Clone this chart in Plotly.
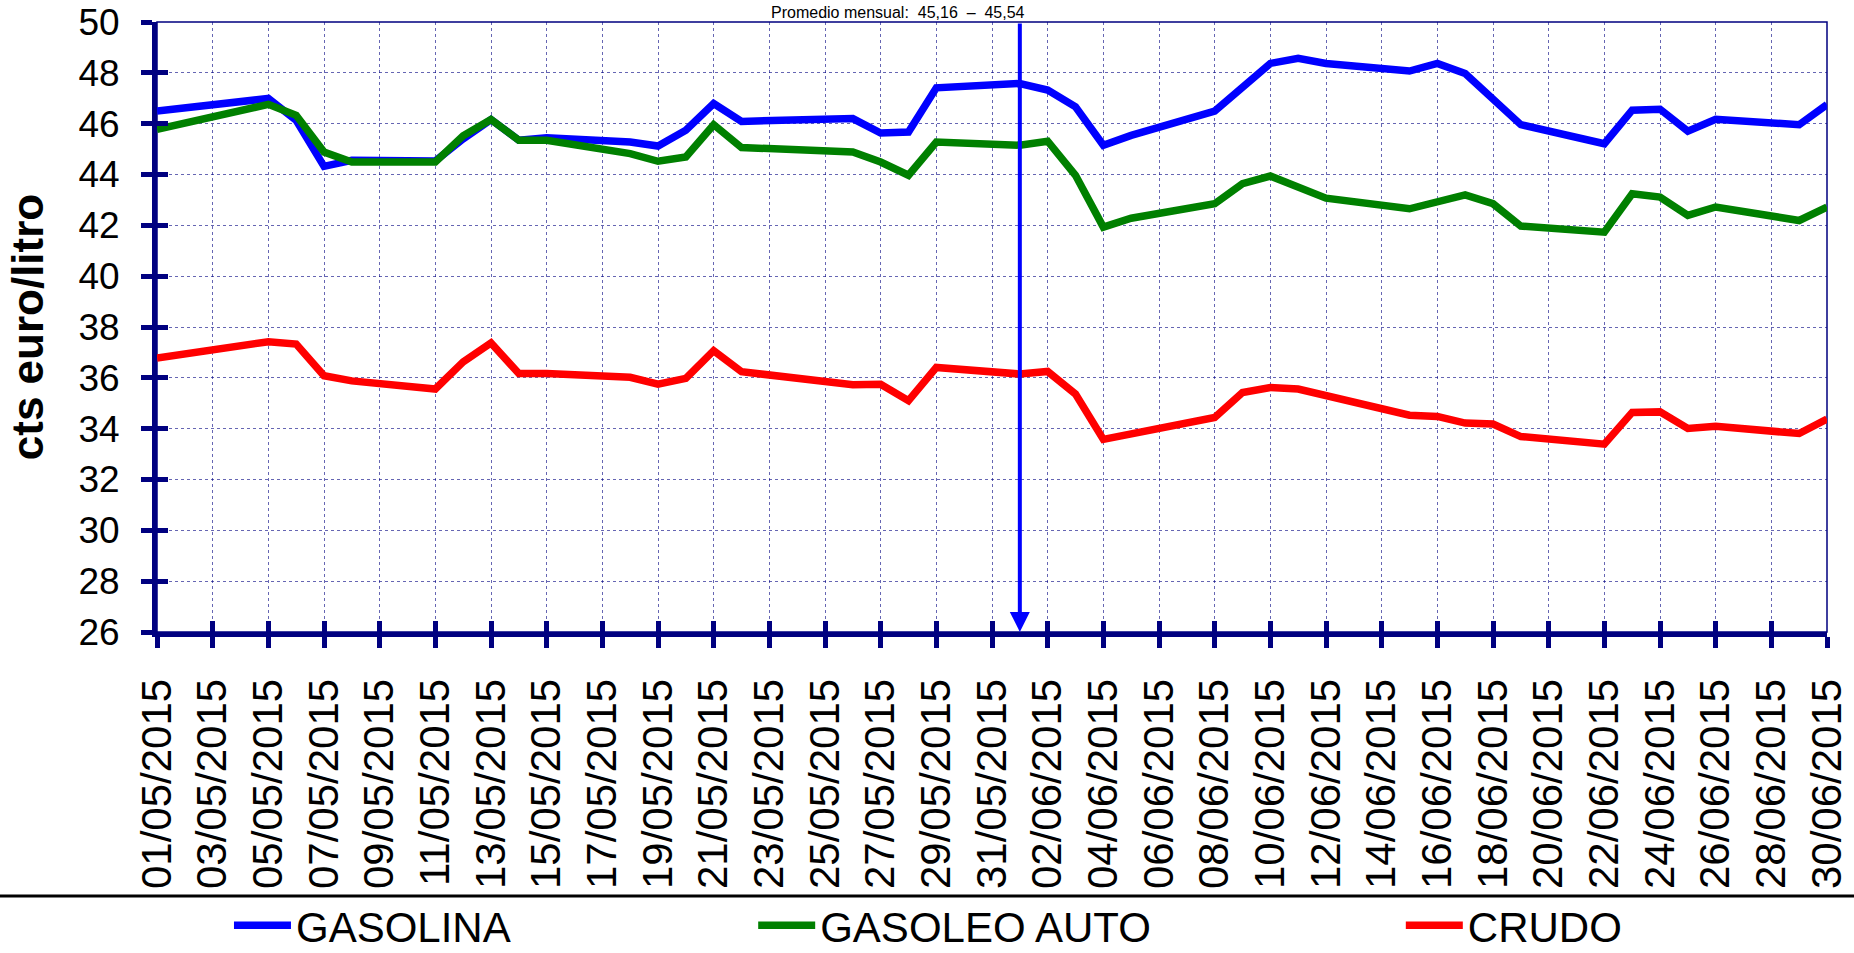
import plotly.graph_objects as go

# ---------------- data ----------------
dates = [
    "2015-05-01", "2015-05-05", "2015-05-06", "2015-05-07", "2015-05-08",
    "2015-05-11", "2015-05-12", "2015-05-13", "2015-05-14", "2015-05-15",
    "2015-05-18", "2015-05-19", "2015-05-20", "2015-05-21", "2015-05-22",
    "2015-05-26", "2015-05-27", "2015-05-28", "2015-05-29",
    "2015-06-01", "2015-06-02", "2015-06-03", "2015-06-04", "2015-06-05",
    "2015-06-08", "2015-06-09", "2015-06-10", "2015-06-11", "2015-06-12",
    "2015-06-15", "2015-06-16", "2015-06-17", "2015-06-18", "2015-06-19",
    "2015-06-22", "2015-06-23", "2015-06-24", "2015-06-25", "2015-06-26",
    "2015-06-29", "2015-06-30",
]
gasolina = [
    46.50, 46.99, 46.13, 44.32, 44.56,
    44.53, 45.40, 46.16, 45.35, 45.45,
    45.28, 45.12, 45.74, 46.79, 46.09,
    46.20, 45.63, 45.67, 47.41,
    47.58, 47.32, 46.66, 45.15, 45.54,
    46.49, 47.45, 48.37, 48.57, 48.37,
    48.07, 48.37, 47.97, 46.92, 45.96,
    45.21, 46.53, 46.57, 45.70, 46.17,
    45.96, 46.75,
]
gasoleo = [
    45.78, 46.76, 46.33, 44.88, 44.49,
    44.49, 45.52, 46.16, 45.35, 45.35,
    44.82, 44.52, 44.69, 45.96, 45.06,
    44.89, 44.49, 43.97, 45.28,
    45.15, 45.31, 43.97, 41.93, 42.28,
    42.85, 43.64, 43.94, 43.51, 43.07,
    42.65, 42.91, 43.20, 42.85, 41.97,
    41.73, 43.24, 43.11, 42.39, 42.72,
    42.19, 42.72,
]
crudo = [
    36.78, 37.42, 37.33, 36.08, 35.88,
    35.56, 36.63, 37.37, 36.17, 36.17,
    36.02, 35.75, 35.98, 37.07, 36.24,
    35.73, 35.75, 35.10, 36.41,
    36.15, 36.25, 35.36, 33.58, 33.78,
    34.44, 35.42, 35.62, 35.56, 35.32,
    34.53, 34.48, 34.22, 34.18, 33.69,
    33.39, 34.64, 34.66, 34.01, 34.09,
    33.81, 34.38,
]
series_names = ["GASOLINA", "GASOLEO AUTO", "CRUDO"]
series_colors = ["#0000FF", "#008000", "#FF0000"]
x_range = ["2015-05-01", "2015-06-30"]
y_range = [26, 50]
marker_date = "2015-06-01"
top_text = "Promedio mensual:  45,16  –  45,54"
y_title = "cts euro/litro"

FONT = "Arial, Liberation Sans, sans-serif"
NAVY = "#000080"
GRID = "rgba(0,0,128,0.6)"
DAY = 86400000

fig = go.Figure()
legends = ["legend", "legend2", "legend3"]
for name, vals, col, lg in zip(series_names, [gasolina, gasoleo, crudo], series_colors, legends):
    fig.add_trace(go.Scatter(
        x=dates, y=vals, name=name, mode="lines",
        line=dict(color=col, width=7.5), legend=lg,
    ))

# invisible trace carrying the overlay axes used for inner tick halves
fig.add_trace(go.Scatter(
    x=[dates[0]], y=[crudo[0]], xaxis="x2", yaxis="y2", mode="markers",
    marker=dict(opacity=0), showlegend=False, hoverinfo="skip",
))

# vertical arrow
fig.add_annotation(
    x=marker_date, y=y_range[0], xref="x", yref="y",
    ax=0, ay=y_range[1], axref="pixel", ayref="y",
    showarrow=True, arrowhead=2, arrowsize=1.0, arrowwidth=4,
    arrowcolor="#0000FF", standoff=0, text="",
)

# small text at top
fig.add_annotation(
    x=0.4437, y=1.0328, xref="paper", yref="paper",
    xanchor="center", yanchor="top", showarrow=False,
    text=top_text, font=dict(family=FONT, size=16, color="black"),
)

# plot frame (top/right thin lines)
fig.add_shape(type="rect", xref="paper", yref="paper", x0=0, y0=0, x1=1, y1=1,
              line=dict(color=NAVY, width=1.5), layer="below")
# separator line above legend
fig.add_shape(type="line", xref="paper", yref="paper", x0=-0.1, x1=1.1,
              y0=-0.4328, y1=-0.4328, line=dict(color="black", width=3))

xcommon = dict(type="date", range=x_range, tick0=x_range[0], dtick=2 * DAY, automargin=False)
ycommon = dict(range=y_range, tick0=26, dtick=2, automargin=False)

fig.update_layout(
    width=1854, height=953,
    margin=dict(l=157, r=27, t=22, b=321, autoexpand=False),
    paper_bgcolor="white", plot_bgcolor="white",
    font=dict(family=FONT, color="black"),
    xaxis=dict(
        **xcommon, tickformat="%d/%m/%Y", tickangle=-90,
        tickfont=dict(family=FONT, size=42, color="black"),
        showline=True, linecolor=NAVY, linewidth=5,
        ticks="outside", ticklen=11, tickwidth=5, tickcolor=NAVY,
        showgrid=True, gridcolor=GRID, gridwidth=1, griddash="dot",
        zeroline=False, ticklabelstandoff=14,
    ),
    yaxis=dict(
        **ycommon,
        tickfont=dict(family=FONT, size=37, color="black"),
        showline=True, linecolor=NAVY, linewidth=5,
        ticks="outside", ticklen=11, tickwidth=5, tickcolor=NAVY,
        showgrid=True, gridcolor=GRID, gridwidth=1, griddash="dot",
        zeroline=False, ticklabelstandoff=14,
        title=dict(text="<b>" + y_title + "</b>", font=dict(family=FONT, size=44, color="black"),
                   standoff=23),
    ),
    xaxis2=dict(
        **xcommon, overlaying="x", anchor="y2", side="bottom",
        showticklabels=False, showgrid=False, zeroline=False, showline=False,
        ticks="inside", ticklen=11, tickwidth=5, tickcolor=NAVY,
    ),
    yaxis2=dict(
        **ycommon, overlaying="y", anchor="x2", side="left",
        showticklabels=False, showgrid=False, zeroline=False, showline=False,
        ticks="inside", ticklen=11, tickwidth=5, tickcolor=NAVY,
    ),
    showlegend=True,
)

leg_common = dict(orientation="h", yanchor="middle", y=-0.481, xanchor="left",
                  font=dict(family=FONT, size=42, color="black"),
                  bgcolor="rgba(0,0,0,0)", itemwidth=57, borderwidth=0)
fig.update_layout(
    legend=dict(**leg_common, x=0.0431),
    legend2=dict(**leg_common, x=0.3570),
    legend3=dict(**leg_common, x=0.7448),
)

fig.write_html(
    "out.html",
    config={"displayModeBar": False},
    post_script="document.body.style.margin='0px';document.body.style.overflow='hidden';",
)
